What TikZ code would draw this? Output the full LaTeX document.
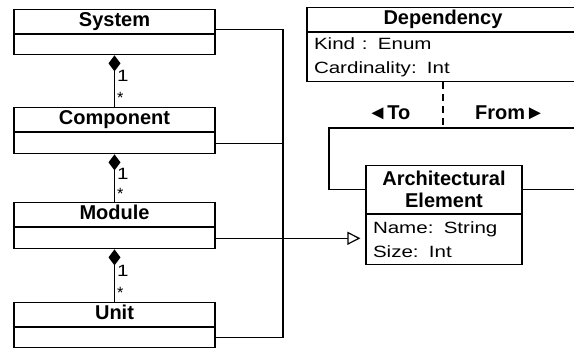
\documentclass[tikz,border=0pt]{standalone}
\usepackage{fontspec}
\setmainfont{Liberation Sans}
\usetikzlibrary{positioning,arrows.meta}
\newcommand{\umlfont}{\fontsize{16.3}{24}\selectfont}
\newcommand{\umlnamefont}{\fontsize{20}{22}\selectfont\bfseries}
\newcommand{\wide}[1]{\scalebox{1.26}[1]{#1}}
\tikzset{
  umlbox/.style={draw,inner sep=0pt,inner xsep=7pt},
  classname/.style={umlbox,font=\umlnamefont,text height=14pt,text depth=4pt,minimum height=24pt,anchor=north},
  attrs/.style={umlbox,align=left,font=\umlfont},
  owns/.style={-{Diamond[length=16pt,width=12pt]}},
  isa/.style={-{Triangle[open,length=13pt,width=13pt]},shorten >=5pt},
  mult/.style={right,inner sep=2pt},
  role/.style={font=\umlnamefont}
}
\begin{document}
\begin{tikzpicture}[x=1pt,y=-1pt,line width=1.2pt,every node/.style={font=\umlfont}]
\clip (0,0) rectangle (574,348);
\node[classname,minimum width=201pt] (sys) at (114.5,9) {System};
\node[umlbox,minimum width=201pt,minimum height=20pt,below=0pt of sys] (sysb) {};
\node[classname,minimum width=201pt] (comp) at (114.5,107) {Component};
\node[umlbox,minimum width=201pt,minimum height=21pt,below=0pt of comp] (compb) {};
\node[classname,minimum width=201pt] (mod) at (114.5,202) {Module};
\node[umlbox,minimum width=201pt,minimum height=21pt,below=0pt of mod] (modb) {};
\node[classname,minimum width=201pt] (unit) at (114.5,302) {Unit};
\node[umlbox,minimum width=201pt,minimum height=20pt,below=0pt of unit] (unitb) {};

\node[classname,minimum width=272pt] (dep) at (443,7) {Dependency};
\node[attrs,text width=258pt,minimum height=49pt,below=0pt of dep] (depb) {\wide{Kind : Enum}\\\wide{Cardinality: Int}};
\node[umlbox,font=\umlnamefont,align=center,text width=142pt,minimum height=48pt,anchor=north] (arch) at (444,165) {Architectural\\Element};
\node[attrs,text width=142pt,minimum height=50pt,below=0pt of arch] (archb) {\wide{Name: String}\\\wide{Size: Int}};

\draw[owns] (comp.north) -- (sysb.south) node[mult,pos=0.6] {\wide{1}} node[mult,pos=0.18] {*};
\draw[owns] (mod.north) -- (compb.south) node[mult,pos=0.6] {\wide{1}} node[mult,pos=0.18] {*};
\draw[owns] (unit.north) -- (modb.south) node[mult,pos=0.6] {\wide{1}} node[mult,pos=0.18] {*};

\coordinate (bus) at (283,237.5);
\draw ([yshift=5pt]sysb.north east) -| (bus);
\draw (compb.east) -| (bus);
\draw (unitb.east) -| (bus);
\draw[isa] (modb.east) -- (modb.east -| archb.west);

\coordinate (loopL) at (329,128);
\coordinate (loopR) at (600,128);
\draw (arch.west) -| (loopL) -- (loopR) |- (arch.east);
\draw[dash pattern=on 7pt off 5pt] (depb.south) -- (depb.south |- loopL);
\node[role] (to) at (389,113) {◄To};
\node[role] (from) at (510,113) {From►};
\end{tikzpicture}
\end{document}
